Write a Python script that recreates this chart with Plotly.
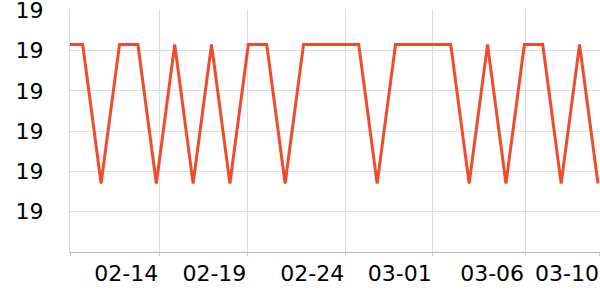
import plotly.graph_objects as go

dates = ["2023-02-09", "2023-02-10", "2023-02-11", "2023-02-12", "2023-02-13", "2023-02-14",
         "2023-02-15", "2023-02-16", "2023-02-17", "2023-02-18", "2023-02-19", "2023-02-20",
         "2023-02-21", "2023-02-22", "2023-02-23", "2023-02-24", "2023-02-25", "2023-02-26",
         "2023-02-27", "2023-02-28", "2023-03-01", "2023-03-02", "2023-03-03", "2023-03-04",
         "2023-03-05", "2023-03-06", "2023-03-07", "2023-03-08", "2023-03-09", "2023-03-10"]
values = [19.0215, 19.0215, 18.987, 19.0215, 19.0215, 18.987,
          19.0215, 18.987, 19.0215, 18.987, 19.0215, 19.0215,
          18.987, 19.0215, 19.0215, 19.0215, 19.0215, 18.987,
          19.0215, 19.0215, 19.0215, 19.0215, 18.987, 19.0215,
          18.987, 19.0215, 19.0215, 18.987, 19.0215, 18.987]

tick_dates = ["2023-02-09 08:21", "2023-02-14 03:55", "2023-02-18 22:42", "2023-02-24 06:29",
              "2023-03-01 00:29", "2023-03-06 00:58", "2023-03-10 02:38"]
tick_labels = ["", "02-14", "02-19", "02-24", "03-01", "03-06", "03-10"]

y_ticks = [18.98, 18.99, 19.00, 19.01, 19.02, 19.03]

fig = go.Figure()
fig.add_trace(go.Scatter(
    x=dates, y=values, mode="lines",
    line=dict(color="#ee4c2c", width=3),
    hoverinfo="skip",
))

fig.update_layout(
    width=600, height=300,
    margin=dict(l=70, r=0, t=10, b=48),
    paper_bgcolor="white", plot_bgcolor="white",
    showlegend=False,
    font=dict(family="DejaVu Sans", size=22, color="#000000"),
)
fig.update_xaxes(
    type="date", automargin=False,
    range=["2023-02-09 07:26", "2023-03-10 02:40"],
    tickmode="array", tickvals=tick_dates, ticktext=tick_labels,
    ticklabelposition="outside left", ticklabeloverflow="allow",
    showgrid=True, gridcolor="#dddddd", gridwidth=1,
    showline=True, linecolor="#bbbbbb", linewidth=1,
    ticks="outside", ticklen=3, tickcolor="#cccccc",
    ticklabelstandoff=2,
    zeroline=False,
)
fig.update_yaxes(
    automargin=False,
    range=[18.97, 19.03005],
    tickmode="array", tickvals=y_ticks, tickformat=".0f",
    ticklabeloverflow="allow",
    showgrid=True, gridcolor="#dddddd", gridwidth=1,
    showline=True, linecolor="#dddddd", linewidth=1,
    ticks="", ticklabelstandoff=21,
    zeroline=False,
)

fig.write_html("out.html")
